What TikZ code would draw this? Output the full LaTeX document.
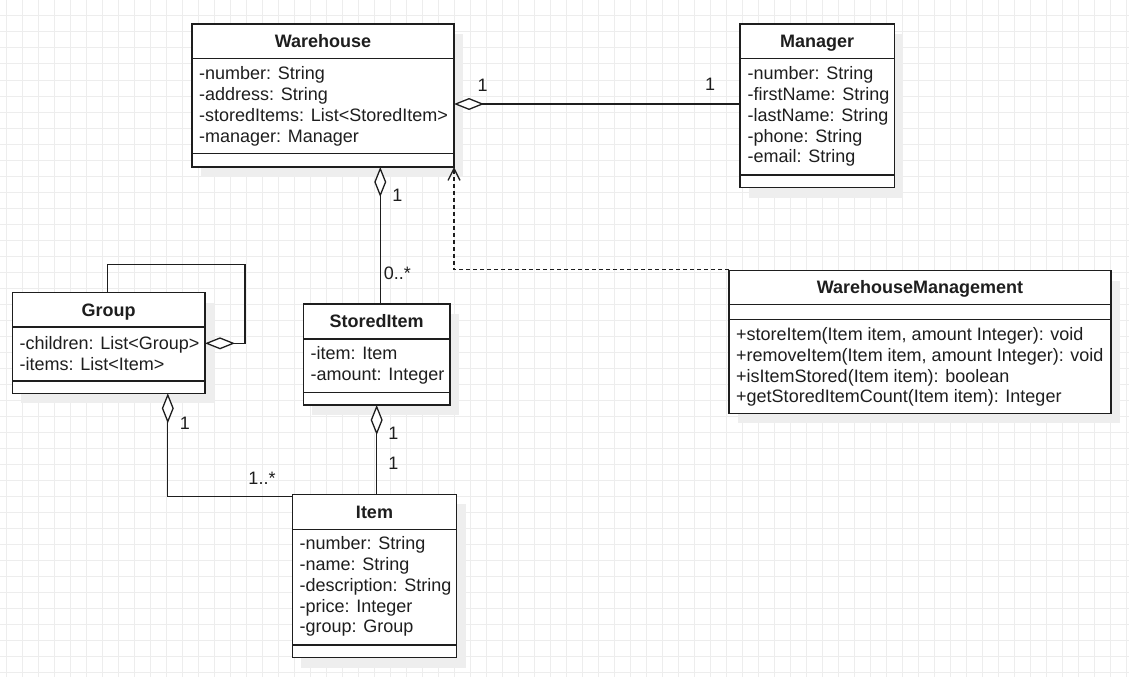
\documentclass[tikz,border=0pt]{standalone}
\usepackage{fontspec}
\setmainfont{Liberation Sans}
\usetikzlibrary{calc,arrows.meta}
\definecolor{gridc}{HTML}{EDEDED}
\definecolor{shadowc}{HTML}{EEEEEE}
\definecolor{ink}{HTML}{1E1E1E}
\tikzset{
  classbox/.style={draw=ink, line width=1.5pt, fill=white, rectangle, inner sep=0pt, outer sep=0pt},
  sepline/.style={draw=ink, line width=1.5pt},
  titletext/.style={font=\fontsize{18}{21}\selectfont\bfseries, text=ink, inner sep=0pt, anchor=base},
  rowtext/.style={font=\fontsize{18}{21}\selectfont, text=ink, inner sep=0pt, anchor=base west},
  multlabel/.style={font=\fontsize{18}{21}\selectfont, text=ink, inner sep=0pt, anchor=base},
  conn/.style={draw=ink, line width=1.3pt},
  aggrstart/.style={arrows={{Diamond[length=30pt, width=12pt, fill=white]}-}},
  aggrend/.style={arrows={-{Diamond[length=30pt, width=12pt, fill=white]}}},
  depline/.style={draw=ink, line width=1.3pt, dash pattern=on 4pt off 3pt,
    arrows={-{Straight Barb[length=12pt, width=12pt]}}},
}
\newcommand{\umlclass}[8]{%
  \fill[shadowc] ({#2+9},{#3+10}) rectangle ({#4+9},{#5+10});
  \node[classbox, anchor=north west, minimum width={(#4)-(#2)}, minimum height={(#5)-(#3)}] (#1) at (#2,#3) {};
  \draw[sepline] (#2,#6) -- (#4,#6);
  \draw[sepline] (#2,#7) -- (#4,#7);
  \node[titletext] (#1-title) at ({(#2+#4)/2},{(#3+#6)/2+6.45}) {#8};
}
\newcommand{\umlrows}[4]{%
  \foreach \rowtxt [count=\ri] in {#4} {
    \node[rowtext] (#1-row\ri) at ({#2},{#3+(\ri-1)*20.8+6.45}) {\rowtxt};
  }%
}
\begin{document}
\begin{tikzpicture}[x=1pt,y=-1pt]
\useasboundingbox (0,0) rectangle (1129,677);
\fill[white] (0,0) rectangle (1129,677);
\foreach \gx in {6,22,...,1126} \draw[gridc, line width=1pt] (\gx,0) -- (\gx,677);
\foreach \gy in {0,16,...,672} \draw[gridc, line width=1pt] (0,\gy) -- (1129,\gy);

% classes
\umlclass{warehouse}{192}{24}{454}{167}{58.3}{153.7}{Warehouse}
\umlrows{warehouse}{199}{73.3}{-number: String,-address: String,-storedItems: List<StoredItem>,-manager: Manager}

\umlclass{manager}{740}{24}{894.3}{187.7}{58.3}{175}{Manager}
\umlrows{manager}{747.5}{73.3}{-number: String,-firstName: String,-lastName: String,-phone: String,-email: String}

\umlclass{group}{12.3}{292.7}{205}{393.3}{327}{381}{Group}
\umlrows{group}{19.5}{343.3}{-children: List<Group>,-items: List<Item>}

\umlclass{storeditem}{303.3}{304}{450}{405}{339}{392.3}{StoredItem}
\umlrows{storeditem}{310.5}{353.3}{-item: Item,-amount: Integer}

\umlclass{item}{292.3}{494.3}{456.7}{657.7}{529.3}{645}{Item}
\umlrows{item}{299.5}{543.3}{-number: String,-name: String,-description: String,-price: Integer,-group: Group}

\umlclass{wmgmt}{729}{270.7}{1111}{413.3}{304.3}{319.3}{WarehouseManagement}
\umlrows{wmgmt}{736}{334}{{+storeItem(Item item, amount Integer): void},{+removeItem(Item item, amount Integer): void},{+isItemStored(Item item): boolean},{+getStoredItemCount(Item item): Integer}}

% connectors
\coordinate (whR) at ($(warehouse.north east)+(0,80)$);
\draw[conn, aggrstart] (whR) -- (whR -| manager.west);

\coordinate (siTop) at ($(storeditem.north)+(3.6,0)$);
\draw[conn, aggrstart] (warehouse.south -| siTop) -- (siTop);

\draw[conn, aggrstart] (storeditem.south) -- (storeditem.south |- item.north);

\coordinate (gB) at ($(group.south west)+(155.5,0)$);
\coordinate (iL) at ($(item.north west)+(0,2.5)$);
\draw[conn, aggrstart] (gB) |- (iL);

\coordinate (gTop) at ($(group.north)+(-1.3,0)$);
\coordinate (gLoop) at ($(group.north east)+(40,-28.5)$);
\coordinate (gR) at ($(group.north east)+(0,50.6)$);
\draw[conn, aggrend] (gTop) |- (gLoop) |- (gR);

\draw[depline] ($(wmgmt.north west)+(0,-1)$) -| (warehouse.south east);

% multiplicities
\node[multlabel] (m1) at (482.7, 91.45) {1};
\node[multlabel] (m2) at (710, 90.75) {1};
\node[multlabel] (m3) at (397.3, 201.45) {1};
\node[multlabel] (m4) at (397.3, 279.15) {0..*};
\node[multlabel] (m5) at (393.3, 439.75) {1};
\node[multlabel] (m6) at (393.3, 469.75) {1};
\node[multlabel] (m7) at (185, 429.15) {1};
\node[multlabel] (m8) at (262, 484.75) {1..*};
\end{tikzpicture}
\end{document}
